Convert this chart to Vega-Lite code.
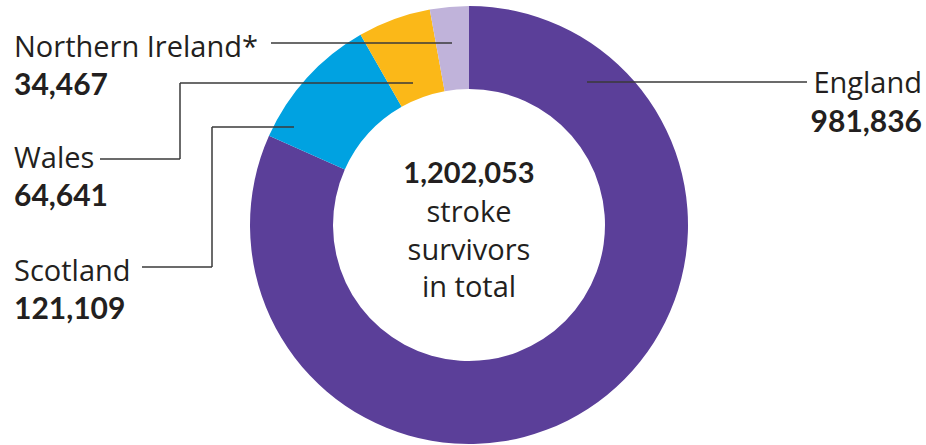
{
  "$schema": "https://vega.github.io/schema/vega-lite/v6.json",
  "width": 914,
  "height": 440,
  "autosize": {"type": "none"},
  "padding": {"left": 12, "top": 5, "right": 0, "bottom": 0},
  "background": "white",
  "config": {"view": {"stroke": null}, "font": "Lato"},
  "datasets": {
    "nations": [
      {"nation": "England", "value": 981836, "rank": 1, "label": "England", "lx": 453, "ly": 132, "side": "right"},
      {"nation": "Scotland", "value": 121109, "rank": 2, "label": "Scotland", "lx": -455, "ly": -56, "side": "left"},
      {"nation": "Wales", "value": 64641, "rank": 3, "label": "Wales", "lx": -455, "ly": 57, "side": "left"},
      {"nation": "Northern Ireland", "value": 34467, "rank": 4, "label": "Northern Ireland*", "lx": -455, "ly": 168, "side": "left"}
    ],
    "leaders": [
      {"nation": "Northern Ireland", "x": -198, "y": 182, "x2": -17, "y2": 182},
      {"nation": "Wales", "x": -369, "y": 66, "x2": -289, "y2": 66},
      {"nation": "Wales", "x": -289, "y": 66, "x2": -289, "y2": 142},
      {"nation": "Wales", "x": -289, "y": 142, "x2": -56, "y2": 142},
      {"nation": "Scotland", "x": -327, "y": -42, "x2": -257, "y2": -42},
      {"nation": "Scotland", "x": -257, "y": -42, "x2": -257, "y2": 98},
      {"nation": "Scotland", "x": -257, "y": 98, "x2": -175, "y2": 98},
      {"nation": "England", "x": 118, "y": 143, "x2": 338, "y2": 143}
    ]
  },
  "layer": [
    {
      "data": {"name": "nations"},
      "mark": {"type": "arc", "outerRadius": 219, "innerRadius": 136},
      "encoding": {
        "theta": {"field": "value", "type": "quantitative", "stack": true},
        "order": {"field": "rank", "type": "quantitative"},
        "color": {
          "field": "nation",
          "type": "nominal",
          "scale": {
            "domain": ["England", "Scotland", "Wales", "Northern Ireland"],
            "range": ["#5b3f99", "#00a2e1", "#fbb818", "#c0b3da"]
          },
          "legend": null
        }
      }
    },
    {
      "data": {"name": "leaders"},
      "mark": {"type": "rule", "color": "#3a3a3a", "strokeWidth": 1.5},
      "encoding": {
        "x": {"field": "x", "type": "quantitative", "scale": {"domain": [-457, 457], "nice": false, "zero": false}, "axis": null},
        "y": {"field": "y", "type": "quantitative", "scale": {"domain": [-220, 220], "nice": false, "zero": false}, "axis": null},
        "x2": {"field": "x2"},
        "y2": {"field": "y2"}
      }
    },
    {
      "data": {"name": "nations"},
      "transform": [{"filter": "datum.side === 'left'"}],
      "mark": {"type": "text", "align": "left", "baseline": "alphabetic", "font": "Open Sans", "fontSize": 29, "color": "#231f20"},
      "encoding": {
        "x": {"field": "lx", "type": "quantitative"},
        "y": {"field": "ly", "type": "quantitative"},
        "text": {"field": "label"}
      }
    },
    {
      "data": {"name": "nations"},
      "transform": [{"filter": "datum.side === 'left'"}],
      "mark": {"type": "text", "align": "left", "baseline": "alphabetic", "fontSize": 30, "fontWeight": "bold", "dy": 38, "color": "#231f20"},
      "encoding": {
        "x": {"field": "lx", "type": "quantitative"},
        "y": {"field": "ly", "type": "quantitative"},
        "text": {"field": "value", "type": "quantitative", "format": ","}
      }
    },
    {
      "data": {"name": "nations"},
      "transform": [{"filter": "datum.side === 'right'"}],
      "mark": {"type": "text", "align": "right", "baseline": "alphabetic", "font": "Open Sans", "fontSize": 29, "color": "#231f20"},
      "encoding": {
        "x": {"field": "lx", "type": "quantitative"},
        "y": {"field": "ly", "type": "quantitative"},
        "text": {"field": "label"}
      }
    },
    {
      "data": {"name": "nations"},
      "transform": [{"filter": "datum.side === 'right'"}],
      "mark": {"type": "text", "align": "right", "baseline": "alphabetic", "fontSize": 30, "fontWeight": "bold", "dy": 39, "color": "#231f20"},
      "encoding": {
        "x": {"field": "lx", "type": "quantitative"},
        "y": {"field": "ly", "type": "quantitative"},
        "text": {"field": "value", "type": "quantitative", "format": ","}
      }
    },
    {
      "data": {"name": "nations"},
      "transform": [{"aggregate": [{"op": "sum", "field": "value", "as": "total"}]}],
      "mark": {"type": "text", "align": "center", "baseline": "alphabetic", "fontSize": 29, "fontWeight": "bold", "color": "#231f20"},
      "encoding": {
        "x": {"datum": 0, "type": "quantitative"},
        "y": {"datum": 42, "type": "quantitative"},
        "text": {"field": "total", "type": "quantitative", "format": ","}
      }
    },
    {
      "data": {"name": "nations"},
      "transform": [{"aggregate": [{"op": "count", "as": "n"}]}],
      "mark": {"type": "text", "align": "center", "baseline": "alphabetic", "font": "Open Sans", "fontSize": 29, "lineHeight": 37.5, "color": "#231f20", "text": ["stroke", "survivors", "in total"]},
      "encoding": {
        "x": {"datum": 0, "type": "quantitative"},
        "y": {"datum": 3, "type": "quantitative"}
      }
    }
  ]
}
